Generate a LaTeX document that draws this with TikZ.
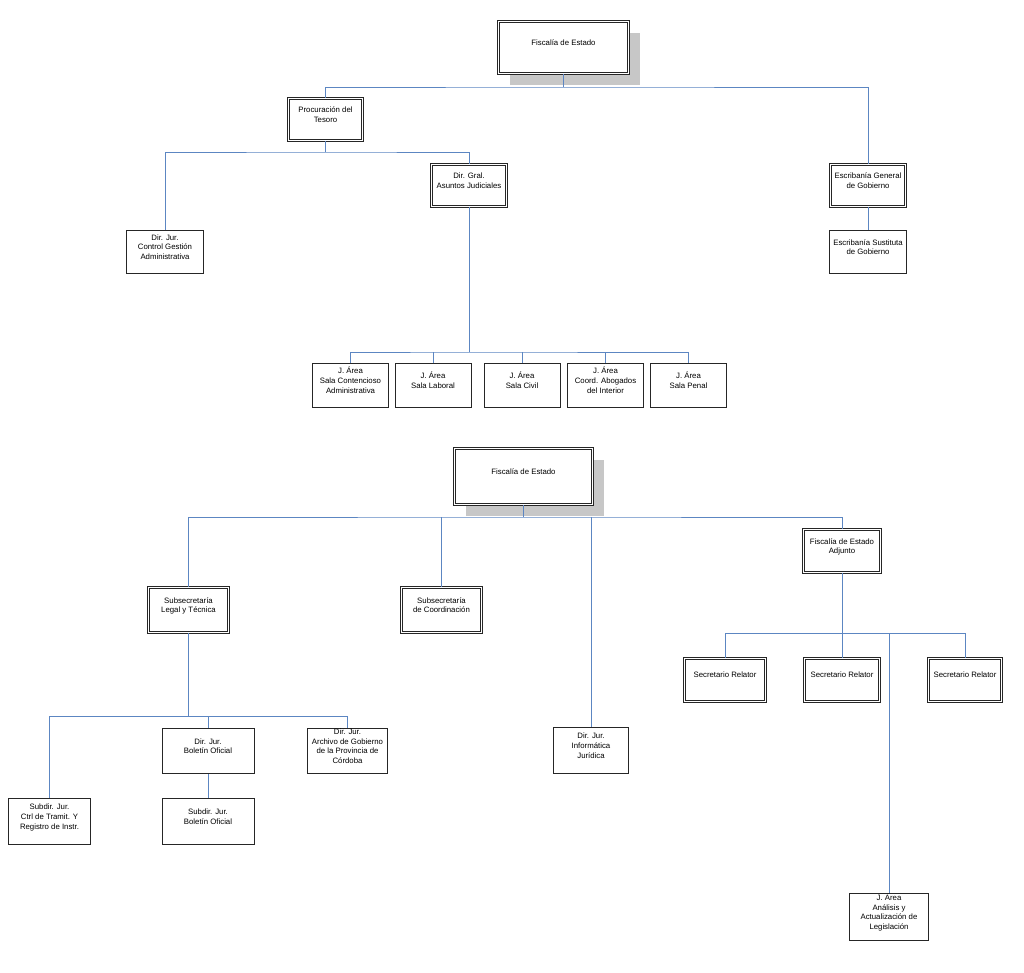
\documentclass[tikz,border=0pt]{standalone}
\usepackage{fontspec}
\setmainfont{Liberation Sans}
\usepackage{tikz}
\usetikzlibrary{shadows}
\definecolor{linkblue}{RGB}{92,134,194}
\newcommand{\txt}[1]{\raisebox{4pt}[\height][\depth]{\begin{tabular}{@{}c@{}}#1\end{tabular}}}

\begin{document}
\begin{tikzpicture}[x=1pt, y=-1pt,
		font=\fontsize{7.8}{9.8}\selectfont,
		unit/.style={draw=black!85, fill=white, line width=0.8pt, inner sep=2pt,
			minimum width=#1, minimum height=43.5pt},
		unit/.default=76pt,
		mainunit/.style={unit=#1, double=white, double distance=1.2pt, minimum height=42.5pt},
		mainunit/.default=75pt,
		topunit/.style={mainunit=#1, drop shadow={shadow xshift=11.5pt, shadow yshift=-11.5pt, fill=black!22, opacity=1}},
		conn/.style={draw=linkblue, line width=1pt}]
	\useasboundingbox (0,0) rectangle (1024,972);

	% upper chart
	\node[topunit=130pt, minimum height=52pt] (fiscA) at (563.5,47.5) {\txt{Fiscalía de Estado}};
	\node[mainunit=74pt] (procur) at (325.5,119.5) {\txt{Procuración del\\Tesoro}};
	\node[mainunit] (dirgral) at (469,185.5) {\txt{Dir. Gral.\\Asuntos Judiciales}};
	\node[unit=77pt] (control) at (165,252) {\txt{Dir. Jur.\\Control Gestión\\Administrativa}};
	\node[mainunit] (escgen) at (868,185.5) {\txt{Escribanía General\\de Gobierno}};
	\node[unit=77pt] (escsus) at (868,252) {\txt{Escribanía Sustituta\\de Gobierno}};
	\node[unit] (ja1) at (350.5,385.5) {\txt{J. Área\\Sala Contencioso\\Administrativa}};
	\node[unit] (ja2) at (433,385.5) {\txt{J. Área\\Sala Laboral}};
	\node[unit] (ja3) at (522,385.5) {\txt{J. Área\\Sala Civil}};
	\node[unit] (ja4) at (605.5,385.5) {\txt{J. Área\\Coord. Abogados\\del Interior}};
	\node[unit] (ja5) at (688.5,385.5) {\txt{J. Área\\Sala Penal}};

	\coordinate (busA) at (563.5,87);
	\coordinate (busP) at (325.5,152);
	\coordinate (busJ) at (469,352);
	\draw[conn] (fiscA.south) -- (busA);
	\draw[conn] (procur.north) |- (busA) -| (escgen.north);
	\draw[conn] (procur.south) -- (busP);
	\draw[conn] (control.north) |- (busP) -| (dirgral.north);
	\draw[conn] (escgen.south) -- (escsus.north);
	\draw[conn] (dirgral.south) -- (busJ);
	\draw[conn] (ja1.north) |- (busJ) -| (ja5.north);
	\foreach \n in {ja2, ja3, ja4}
		\draw[conn] (\n.north) -- (\n.north |- busJ);

	% lower chart
	\node[topunit=138pt, minimum height=56pt] (fiscB) at (523.5,476.5) {\txt{Fiscalía de Estado}};
	\node[mainunit=80pt, minimum height=45pt] (subleg) at (188.5,610) {\txt{Subsecretaría\\Legal y Técnica}};
	\node[mainunit=80pt, minimum height=45pt] (subcoord) at (441.5,610) {\txt{Subsecretaría\\de Coordinación}};
	\node[mainunit=77pt, minimum height=43pt] (adjunto) at (842,551) {\txt{Fiscalía de Estado\\Adjunto}};
	\node[mainunit=81pt, minimum height=43pt] (sr1) at (725,680) {\txt{Secretario Relator}};
	\node[mainunit=75pt, minimum height=43pt] (sr2) at (842,680) {\txt{Secretario Relator}};
	\node[mainunit=73pt, minimum height=43pt] (sr3) at (965,680) {\txt{Secretario Relator}};
	\node[unit=92pt, minimum height=45pt] (boletin) at (208,751) {\txt{Dir. Jur.\\Boletín Oficial}};
	\node[unit=80pt, minimum height=45pt] (archivo) at (347.5,751) {\raisebox{2pt}{\txt{Dir. Jur.\\Archivo de Gobierno\\de la Provincia de\\Córdoba}}};
	\node[unit=82pt, minimum height=46pt] (subctrl) at (49.5,821.5) {\txt{Subdir. Jur.\\Ctrl de Tramit. Y\\Registro de Instr.}};
	\node[unit=92pt, minimum height=46pt] (subbol) at (208,821.5) {\txt{Subdir. Jur.\\Boletín Oficial}};
	\node[unit=75pt, minimum height=46pt] (informat) at (591,750.5) {\txt{Dir. Jur.\\Informática\\Jurídica}};
	\node[unit=79pt, minimum height=47pt] (jarea) at (889,917) {\txt{J. Area\\Análisis y\\Actualización de\\Legislación}};

	\coordinate (busB) at (523.5,517);
	\coordinate (busL) at (188.5,716);
	\coordinate (busR) at (842,633);
	\draw[conn] (fiscB.south) -- (busB);
	\draw[conn] (subleg.north) |- (busB) -| (adjunto.north);
	\foreach \n in {subcoord, informat}
		\draw[conn] (\n.north) -- (\n.north |- busB);
	\draw[conn] (subleg.south) -- (busL);
	\draw[conn] (subctrl.north) |- (busL) -| (archivo.north);
	\draw[conn] (boletin.north) -- (boletin.north |- busL);
	\draw[conn] (boletin.south) -- (subbol.north);
	\draw[conn] (adjunto.south) -- (busR);
	\draw[conn] (sr1.north) |- (busR) -| (sr3.north);
	\draw[conn] (busR) -- (sr2.north);
	\draw[conn] (jarea.north) -- (jarea.north |- busR);
\end{tikzpicture}
\end{document}
